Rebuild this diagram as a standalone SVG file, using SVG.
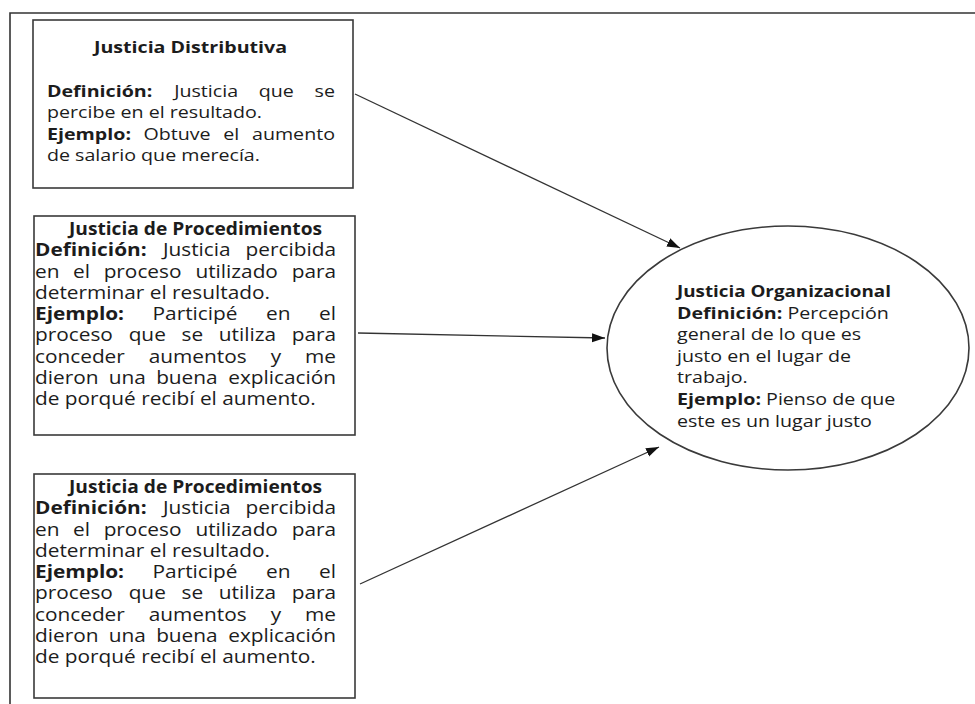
<svg xmlns="http://www.w3.org/2000/svg" width="975" height="704" viewBox="0 0 975 704">
  <style>
    .frame { fill: none; stroke: #333; stroke-width: 1.6; }
    .box { fill: #fff; stroke: #3a3a3a; stroke-width: 1.6; }
    .link { fill: none; stroke: #333; stroke-width: 1.3; }
    text { font-family: "Open Sans", "Noto Sans", "Liberation Sans", sans-serif; fill: #1c1c1c; }
    .t1 { font-size: 16.5px; }
    .t2 { font-size: 17.5px; }
    .b { font-weight: bold; }
    .e { text-anchor: end; }
    .m { text-anchor: middle; }
  </style>
  <defs>
    <marker id="arrow" markerUnits="userSpaceOnUse" markerWidth="14" markerHeight="12" viewBox="0 0 14 12" refX="13" refY="6" orient="auto">
      <path d="M0,1.5 L13,6 L0,10.5 Z" fill="#111"/>
    </marker>
  </defs>

  <rect width="975" height="704" fill="#fff"/>

  <!-- page frame: top and left rules -->
  <path class="frame" d="M10,704 L10,13 L975,13"/>

  <g id="connectors">
    <line class="link" x1="355" y1="94" x2="680" y2="248" marker-end="url(#arrow)"/>
    <line class="link" x1="358" y1="333" x2="605" y2="338" marker-end="url(#arrow)"/>
    <line class="link" x1="360" y1="584" x2="659" y2="447" marker-end="url(#arrow)"/>
  </g>

  <!-- distributive justice -->
  <g id="distributiva">
    <rect class="box" x="33" y="20" width="320" height="168"/>
    <g class="t1" transform="scale(1.19,1)">
      <text class="b m" x="160.1" y="53">Justicia Distributiva</text>
      <text y="97"><tspan class="b" x="39.5">Definición:</tspan><tspan x="146.4">Justicia</tspan><tspan x="217.5">que</tspan><tspan class="e" x="281.5">se</tspan></text>
      <text x="39.5" y="118.5">percibe en el resultado.</text>
      <text y="140"><tspan class="b" x="39.5">Ejemplo:</tspan><tspan x="120.6">Obtuve</tspan><tspan x="187.7">el</tspan><tspan class="e" x="281.5">aumento</tspan></text>
      <text x="39.5" y="161.5">de salario que merecía.</text>
    </g>
  </g>

  <!-- procedural justice -->
  <g id="procedimientos-1">
    <rect class="box" x="34" y="216" width="321" height="219"/>
    <g class="t2" transform="scale(1.19,1)">
      <text class="b m" x="164.3" y="235" textLength="212.6" lengthAdjust="spacingAndGlyphs">Justicia de Procedimientos</text>
      <text y="256.3"><tspan class="b" x="29.4">Definición:</tspan><tspan x="136.9">Justicia</tspan><tspan class="e" x="282.4">percibida</tspan></text>
      <text y="277.6"><tspan x="29.4">en</tspan><tspan x="61.4">el</tspan><tspan x="87.1">proceso</tspan><tspan x="164.2">utilizado</tspan><tspan class="e" x="282.4">para</tspan></text>
      <text x="29.4" y="298.9">determinar el resultado.</text>
      <text y="320.2"><tspan class="b" x="29.4">Ejemplo:</tspan><tspan x="128.2">Participé</tspan><tspan x="223.6">en</tspan><tspan class="e" x="282.4">el</tspan></text>
      <text y="341.5"><tspan x="29.4">proceso</tspan><tspan x="108.1">que</tspan><tspan x="152.5">se</tspan><tspan x="183.8">utiliza</tspan><tspan class="e" x="282.4">para</tspan></text>
      <text y="362.8"><tspan x="29.4">conceder</tspan><tspan x="125">aumentos</tspan><tspan x="227.5">y</tspan><tspan class="e" x="282.4">me</tspan></text>
      <text y="384.1"><tspan x="29.4">dieron</tspan><tspan x="91.4">una</tspan><tspan x="131.2">buena</tspan><tspan class="e" x="282.4">explicación</tspan></text>
      <text x="29.4" y="405.4">de porqué recibí el aumento.</text>
    </g>
  </g>

  <!-- procedural justice (second box) -->
  <g id="procedimientos-2">
    <rect class="box" x="34" y="474" width="321" height="224"/>
    <g class="t2" transform="scale(1.19,1)">
      <text class="b m" x="164.3" y="493" textLength="212.6" lengthAdjust="spacingAndGlyphs">Justicia de Procedimientos</text>
      <text y="514.3"><tspan class="b" x="29.4">Definición:</tspan><tspan x="136.9">Justicia</tspan><tspan class="e" x="282.4">percibida</tspan></text>
      <text y="535.6"><tspan x="29.4">en</tspan><tspan x="61.4">el</tspan><tspan x="87.1">proceso</tspan><tspan x="164.2">utilizado</tspan><tspan class="e" x="282.4">para</tspan></text>
      <text x="29.4" y="556.9">determinar el resultado.</text>
      <text y="578.2"><tspan class="b" x="29.4">Ejemplo:</tspan><tspan x="128.2">Participé</tspan><tspan x="223.6">en</tspan><tspan class="e" x="282.4">el</tspan></text>
      <text y="599.5"><tspan x="29.4">proceso</tspan><tspan x="108.1">que</tspan><tspan x="152.5">se</tspan><tspan x="183.8">utiliza</tspan><tspan class="e" x="282.4">para</tspan></text>
      <text y="620.8"><tspan x="29.4">conceder</tspan><tspan x="125">aumentos</tspan><tspan x="227.5">y</tspan><tspan class="e" x="282.4">me</tspan></text>
      <text y="642.1"><tspan x="29.4">dieron</tspan><tspan x="91.4">una</tspan><tspan x="131.2">buena</tspan><tspan class="e" x="282.4">explicación</tspan></text>
      <text x="29.4" y="663.4">de porqué recibí el aumento.</text>
    </g>
  </g>

  <!-- organizational justice -->
  <g id="organizacional">
    <ellipse class="box" cx="788" cy="348" rx="181" ry="122"/>
    <g class="t1" transform="scale(1.19,1)">
      <text class="b" x="568.9" y="297" textLength="179.8" lengthAdjust="spacingAndGlyphs">Justicia Organizacional</text>
      <text x="568.9" y="318.6"><tspan class="b">Definición:</tspan> Percepción</text>
      <text x="568.9" y="340.2">general de lo que es</text>
      <text x="568.9" y="361.8">justo en el lugar de</text>
      <text x="568.9" y="383.4">trabajo.</text>
      <text x="568.9" y="405"><tspan class="b">Ejemplo:</tspan> Pienso de que</text>
      <text x="568.9" y="426.6">este es un lugar justo</text>
    </g>
  </g>
</svg>
